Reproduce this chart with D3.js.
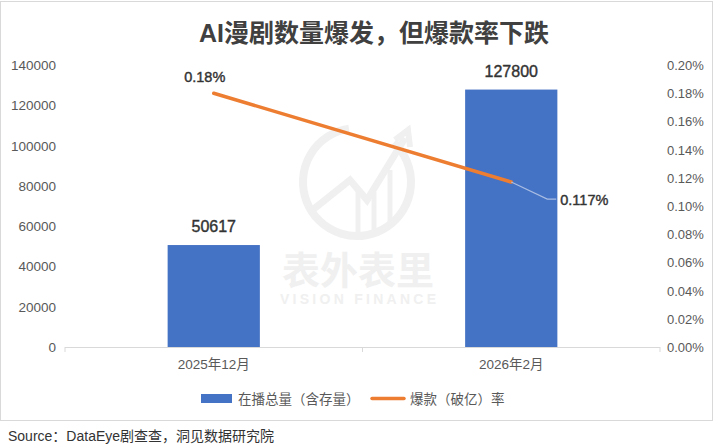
<!DOCTYPE html>
<html>
<head>
<meta charset="utf-8">
<script src="https://cdn.jsdelivr.net/npm/d3@7"></script>
<style>
body{margin:0;background:#fff;}
text{font-family:"Liberation Sans","Noto Sans CJK SC",sans-serif;}
</style>
</head>
<body>
<svg id="chart" width="714" height="448"></svg>
<script>
var categories = ["2025年12月","2026年2月"];
var totalCount = [50617,127800];
var hitRate = [0.18,0.117];
var leftTicks = [0,20000,40000,60000,80000,100000,120000,140000];
var rightTicks = [0,0.02,0.04,0.06,0.08,0.10,0.12,0.14,0.16,0.18,0.20];
var barLabels = ["50617","127800"];
var rateLabels = ["0.18%","0.117%"];

var svg = d3.select("#chart");
var top0 = 65, bottom0 = 347, left0 = 65, right0 = 660;

// frame
svg.append("rect").attr("x",0.5).attr("y",1.5).attr("width",712).attr("height",419)
	.attr("fill","#fff").attr("stroke","#d9d9d9");

// watermark (logo + name)
var wm = svg.append("g").attr("fill","none").attr("stroke","#f0f0f0").attr("stroke-width",8);
wm.append("path").attr("d",d3.arc()({innerRadius:54,outerRadius:54,startAngle:0.75,endAngle:2*Math.PI-0.15}))
	.attr("transform","translate(357,182)");
wm.append("path").attr("d","M310,212 L350,180 L367,200 L405,138").attr("stroke-width",7);
wm.append("path").attr("d","M395,140 L408,130 L410,147").attr("stroke-width",6);
[358,374,390].forEach(function(bx,i){
	wm.append("line").attr("x1",bx).attr("x2",bx).attr("y1",[190,192,170][i]).attr("y2",[234,232,225][i]).attr("stroke-width",5);
});
svg.append("text").attr("x",358).attr("y",284).attr("text-anchor","middle")
	.attr("font-size",38).attr("font-weight","bold").attr("fill","#f0f0f0").text("表外表里");
svg.append("text").attr("x",280).attr("y",304).attr("textLength",156).attr("lengthAdjust","spacing")
	.attr("font-size",14).attr("font-weight","bold").attr("fill","#f0f0f0").text("VISION FINANCE");

var x = d3.scaleBand().domain(categories).range([left0,right0]).paddingInner(0.69).paddingOuter(0.345);
var xc = d3.scalePoint().domain(categories).range([left0,right0]).padding(0.5);
var yL = d3.scaleLinear().domain([0,140000]).range([bottom0,top0]);
var yR = d3.scaleLinear().domain([0,0.20]).range([bottom0,top0]);

// title
svg.append("text").attr("x",374).attr("y",42).attr("text-anchor","middle")
	.attr("font-size",25).attr("font-weight","bold").attr("fill","#404040")
	.text("AI漫剧数量爆发，但爆款率下跌");

// left axis labels
svg.append("g").selectAll("text").data(leftTicks).enter().append("text")
	.attr("x",56).attr("y",function(d){return yL(d)+5;}).attr("text-anchor","end")
	.attr("font-size",13.5).attr("fill","#595959").text(function(d){return d;});

// right axis labels
svg.append("g").selectAll("text").data(rightTicks).enter().append("text")
	.attr("x",667).attr("y",function(d){return yR(d)+5;})
	.attr("font-size",13).attr("fill","#595959").text(function(d){return d3.format(".2f")(d)+"%";});

// bars
svg.append("g").selectAll("rect").data(totalCount).enter().append("rect")
	.attr("x",function(d,i){return x(categories[i]);})
	.attr("y",function(d){return yL(d);})
	.attr("width",x.bandwidth())
	.attr("height",function(d){return bottom0-yL(d);})
	.attr("fill","#4472C4");

// baseline and ticks
svg.append("line").attr("x1",left0).attr("x2",right0).attr("y1",bottom0+0.5).attr("y2",bottom0+0.5)
	.attr("stroke","#d9d9d9").attr("stroke-width",1);
var tickXs = [left0, (xc(categories[0])+xc(categories[1]))/2, right0];
svg.append("g").selectAll("line").data(tickXs).enter().append("line")
	.attr("x1",function(d){return d;}).attr("x2",function(d){return d;})
	.attr("y1",bottom0).attr("y2",bottom0+5).attr("stroke","#d9d9d9");

// category labels
svg.append("g").selectAll("text").data(categories).enter().append("text")
	.attr("x",function(d){return xc(d);}).attr("y",369).attr("text-anchor","middle")
	.attr("font-size",13.5).attr("fill","#595959").text(function(d){return d;});

// bar labels
svg.append("g").selectAll("text").data(totalCount).enter().append("text")
	.attr("x",function(d,i){return xc(categories[i]);})
	.attr("y",function(d){return yL(d)-13;}).attr("text-anchor","middle")
	.attr("font-size",16).attr("fill","#333").attr("stroke","#333").attr("stroke-width",0.4)
	.text(function(d,i){return barLabels[i];});

// rate line
var line = d3.line().x(function(d,i){return xc(categories[i]);}).y(function(d){return yR(d);});
svg.append("path").datum(hitRate).attr("d",line).attr("fill","none")
	.attr("stroke","#ED7D31").attr("stroke-width",3.5).attr("stroke-linecap","round");

// leader line to last label
var lx = xc(categories[1]), ly = yR(hitRate[1]);
svg.append("path").attr("d","M"+lx+","+ly+" L"+(lx+36)+","+(ly+17)+" L"+(lx+45)+","+(ly+17))
	.attr("fill","none").attr("stroke","#a9bde3").attr("stroke-width",1.2);

// rate labels
svg.append("text").attr("x",xc(categories[0])-9).attr("y",yR(hitRate[0])-11)
	.attr("text-anchor","middle").attr("font-size",14.5).attr("fill","#333").attr("stroke","#333").attr("stroke-width",0.4)
	.text(rateLabels[0]);
svg.append("text").attr("x",lx+49).attr("y",ly+23)
	.attr("font-size",14.5).attr("fill","#333").attr("stroke","#333").attr("stroke-width",0.4)
	.text(rateLabels[1]);

// legend
var lg = svg.append("g");
lg.append("rect").attr("x",201).attr("y",394).attr("width",31).attr("height",9).attr("fill","#4472C4");
lg.append("text").attr("x",238).attr("y",404).attr("font-size",13.5).attr("fill","#595959").text("在播总量（含存量）");
lg.append("line").attr("x1",372).attr("x2",404).attr("y1",398.5).attr("y2",398.5)
	.attr("stroke","#ED7D31").attr("stroke-width",3.5).attr("stroke-linecap","round");
lg.append("text").attr("x",410).attr("y",404).attr("font-size",13.5).attr("fill","#595959").text("爆款（破亿）率");

// source
svg.append("text").attr("x",8).attr("y",441).attr("font-size",14).attr("fill","#333")
	.text("Source：DataEye剧查查，洞见数据研究院");
</script>
</body>
</html>
